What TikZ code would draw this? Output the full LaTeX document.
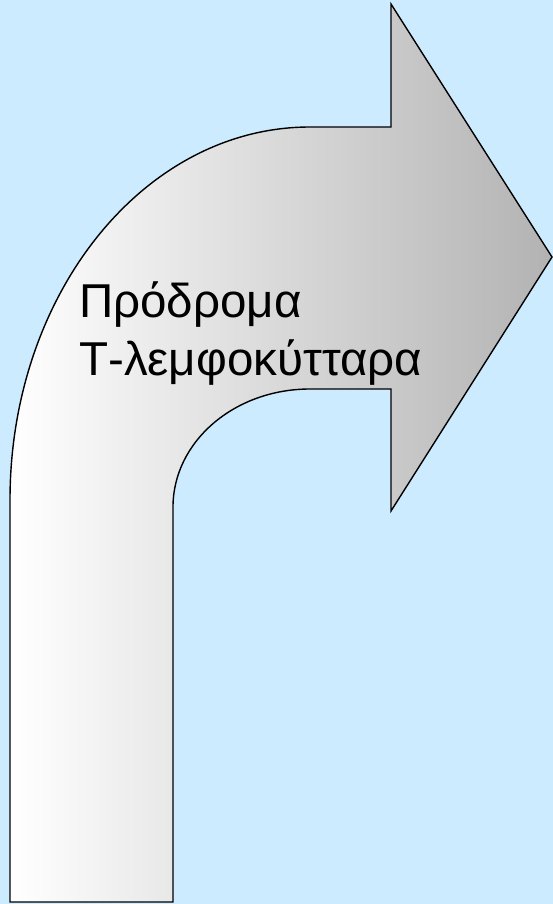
\documentclass[tikz,border=0pt]{standalone}
\usepackage{fontspec}
\setmainfont{Liberation Sans}
\usetikzlibrary{shapes,arrows.meta,positioning,calc}
\usepackage{xcolor}
\definecolor{skyback}{RGB}{204,235,255}
\tikzset{
  bentarrow/.style={draw,line width=1.4pt,line join=miter,shading=axis,left color=white,right color=black!30,shading angle=90},
  caption/.style={align=left,inner sep=0pt,font=\fontsize{47.5}{58}\selectfont}
}

\begin{document}
\begin{tikzpicture}[x=1pt,y=-1pt]
\fill[skyback](0,0)rectangle(553,904);
\useasboundingbox(0,0)rectangle(553,904);
% the bent arrow
\path[bentarrow](10,902)--(10,500)
  ..controls(10,294)and(144,127)..(310,127)
  --(391,127)--(391,4)--(552,257)--(391,511)--(391,389)--(310,389)
  ..controls(234,389)and(173,442)..(173,507)
  --(173,902)--cycle;
\node[caption,anchor=base west](label)at(79,375){Πρόδρομα\\Τ-λεμφοκύτταρα};
\end{tikzpicture}
\end{document}
